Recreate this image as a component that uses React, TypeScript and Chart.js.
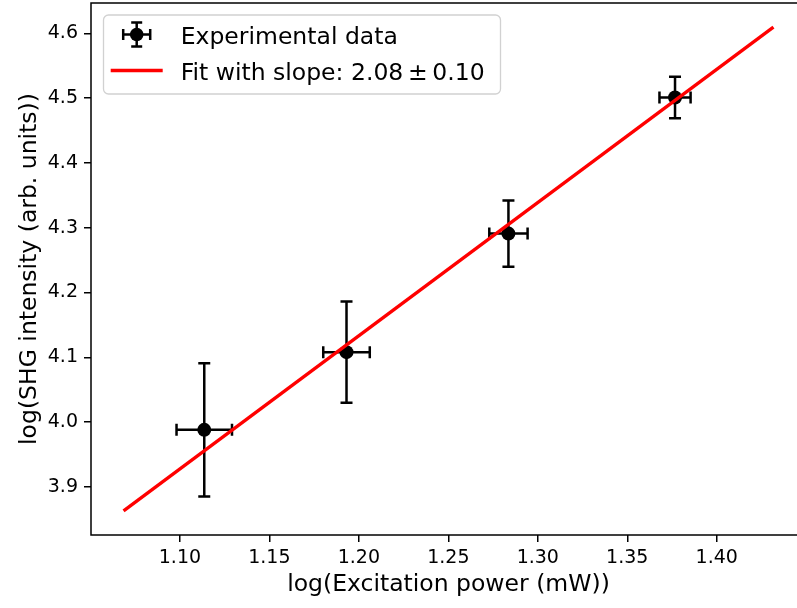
import { useEffect, useRef } from 'react';
import { Chart, registerables } from 'chart.js';

Chart.register(...registerables);

const xPower = [1.1136, 1.1931, 1.2836, 1.3767];
const yIntensity = [3.988, 4.108, 4.291, 4.501];
const xErr = [0.0155, 0.013, 0.0107, 0.0087];
const yErr = [0.103, 0.078, 0.051, 0.032];
const fitX = [1.0685, 1.4317];
const fitY = [3.863, 4.6097];
const xTicks = [1.1, 1.15, 1.2, 1.25, 1.3, 1.35, 1.4];
const yTicks = [3.9, 4.0, 4.1, 4.2, 4.3, 4.4, 4.5, 4.6];
const seriesLabel = 'Experimental data';
const fitLabel = 'Fit with slope: 2.08\u2009±\u20090.10';
const xTitle = 'log(Excitation power (mW))';
const yTitle = 'log(SHG intensity (arb. units))';

const FONT = "'DejaVu Sans', sans-serif";

function drawErrorCross(ctx: CanvasRenderingContext2D, cx: number, cy: number, x0: number, x1: number, y0: number, y1: number, cap: number, lw: number) {
  ctx.save();
  ctx.strokeStyle = '#000';
  ctx.lineWidth = lw;
  ctx.lineCap = 'butt';
  ctx.beginPath();
  ctx.moveTo(x0, cy); ctx.lineTo(x1, cy);
  ctx.moveTo(cx, y0); ctx.lineTo(cx, y1);
  ctx.moveTo(x0, cy - cap); ctx.lineTo(x0, cy + cap);
  ctx.moveTo(x1, cy - cap); ctx.lineTo(x1, cy + cap);
  ctx.moveTo(cx - cap, y0); ctx.lineTo(cx + cap, y0);
  ctx.moveTo(cx - cap, y1); ctx.lineTo(cx + cap, y1);
  ctx.stroke();
  ctx.restore();
}

const errorBarPlugin = {
  id: 'errorBars',
  beforeDatasetsDraw(chart: any) {
    const { ctx, scales } = chart;
    const xs = scales.x, ys = scales.y;
    ctx.save();
    ctx.beginPath();
    const a = chart.chartArea;
    ctx.rect(a.left, a.top, a.right - a.left, a.bottom - a.top);
    ctx.clip();
    for (let i = 0; i < xPower.length; i++) {
      const cx = xs.getPixelForValue(xPower[i]);
      const cy = ys.getPixelForValue(yIntensity[i]);
      const x0 = xs.getPixelForValue(xPower[i] - xErr[i]);
      const x1 = xs.getPixelForValue(xPower[i] + xErr[i]);
      const y0 = ys.getPixelForValue(yIntensity[i] + yErr[i]);
      const y1 = ys.getPixelForValue(yIntensity[i] - yErr[i]);
      drawErrorCross(ctx, cx, cy, x0, x1, y0, y1, 6, 2.5);
    }
    ctx.restore();
  },
};

const framePlugin = {
  id: 'frame',
  afterDatasetsDraw(chart: any) {
    const { ctx, chartArea: a } = chart;
    ctx.save();
    ctx.strokeStyle = '#000';
    ctx.lineWidth = 1.5;
    ctx.strokeRect(a.left, a.top, a.right - a.left, a.bottom - a.top);
    ctx.restore();
  },
};

const legendPlugin = {
  id: 'customLegend',
  afterDraw(chart: any) {
    const { ctx } = chart;
    ctx.save();
    const bx = 103.5, by = 15, bw = 397, bh = 79, r = 5;
    ctx.beginPath();
    ctx.roundRect(bx, by, bw, bh, r);
    ctx.fillStyle = 'rgba(255,255,255,0.8)';
    ctx.fill();
    ctx.strokeStyle = 'rgba(204,204,204,0.9)';
    ctx.lineWidth = 1.3;
    ctx.stroke();

    const mx = 136.7, my = 34.5;
    drawErrorCross(ctx, mx, my, mx - 13.5, mx + 13.5, my - 12, my + 12, 5.5, 2.5);
    ctx.beginPath();
    ctx.arc(mx, my, 6.8, 0, Math.PI * 2);
    ctx.fillStyle = '#000';
    ctx.fill();

    ctx.beginPath();
    ctx.moveTo(110.7, 70.5);
    ctx.lineTo(162.7, 70.5);
    ctx.strokeStyle = '#ff0000';
    ctx.lineWidth = 3.3;
    ctx.stroke();

    ctx.fillStyle = '#000';
    ctx.font = `23.5px ${FONT}`;
    ctx.textBaseline = 'alphabetic';
    ctx.textAlign = 'left';
    ctx.fillText(seriesLabel, 180.7, 43.5);
    ctx.fillText(fitLabel, 180.7, 79.5);
    ctx.restore();
  },
};

export default function App() {
  const ref = useRef<HTMLCanvasElement | null>(null);

  useEffect(() => {
    if (!ref.current) return;
    const chart = new Chart(ref.current, {
      type: 'scatter',
      data: {
        datasets: [
          {
            label: fitLabel,
            data: fitX.map((x, i) => ({ x, y: fitY[i] })),
            showLine: true,
            borderColor: '#ff0000',
            borderWidth: 3.3,
            pointRadius: 0,
            order: 0,
          },
          {
            label: seriesLabel,
            data: xPower.map((x, i) => ({ x, y: yIntensity[i] })),
            backgroundColor: '#000',
            borderColor: '#000',
            pointRadius: 7,
            pointBorderWidth: 0,
            order: 1,
          },
        ],
      },
      options: {
        responsive: false,
        maintainAspectRatio: false,
        animation: false,
        devicePixelRatio: 1,
        layout: { autoPadding: false, padding: { top: 3, right: 0, left: 0, bottom: 0 } },
        plugins: { legend: { display: false }, tooltip: { enabled: false } },
        scales: {
          x: {
            type: 'linear',
            min: 1.0503,
            max: 1.4499,
            afterBuildTicks: (s: any) => { s.ticks = xTicks.map((v) => ({ value: v })); },
            afterFit: (s: any) => { s.height = 73; s.paddingLeft = 0; s.paddingRight = 0; },
            ticks: {
              autoSkip: false,
              maxRotation: 0,
              minRotation: 0,
              padding: 5,
              color: '#000',
              font: { family: FONT, size: 19 },
              callback: (v: any) => Number(v).toFixed(2),
            },
            grid: { drawOnChartArea: false, drawTicks: true, tickLength: 7, color: '#000', lineWidth: 1.5 },
            border: { display: false },
            title: {
              display: true,
              text: xTitle,
              color: '#000',
              font: { family: FONT, size: 23.5 },
              padding: { top: 0, bottom: 9 },
            },
          },
          y: {
            type: 'linear',
            min: 3.8257,
            max: 4.647,
            afterBuildTicks: (s: any) => { s.ticks = yTicks.map((v) => ({ value: v })); },
            afterFit: (s: any) => { s.width = 91; s.paddingTop = 0; s.paddingBottom = 0; },
            ticks: {
              autoSkip: false,
              padding: 6,
              color: '#000',
              font: { family: FONT, size: 19 },
              callback: (v: any) => Number(v).toFixed(1),
            },
            grid: { drawOnChartArea: false, drawTicks: true, tickLength: 7, color: '#000', lineWidth: 1.5 },
            border: { display: false },
            title: {
              display: true,
              text: yTitle,
              color: '#000',
              font: { family: FONT, size: 23.5 },
              padding: { top: 16, bottom: 0 },
            },
          },
        },
      },
      plugins: [errorBarPlugin, framePlugin, legendPlugin],
    });
    return () => chart.destroy();
  }, []);

  return (
    <div style={{ position: 'fixed', left: 0, top: 0, width: 797, height: 608, overflow: 'hidden', background: '#fff' }}>
      <div style={{ width: 806, height: 608 }}>
        <canvas ref={ref} width={806} height={608} style={{ display: 'block', width: 806, height: 608 }} />
      </div>
    </div>
  );
}
